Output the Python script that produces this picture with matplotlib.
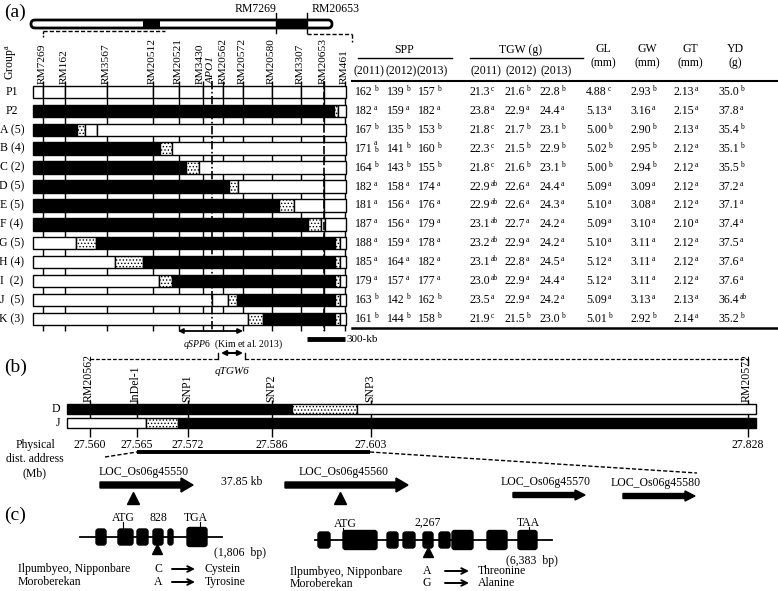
import numpy as np
import matplotlib.pyplot as plt
from matplotlib.patches import Rectangle, FancyBboxPatch, FancyArrow

plt.rcParams['font.family'] = ['Liberation Serif', 'DejaVu Serif']
plt.rcParams['mathtext.fontset'] = 'custom'
plt.rcParams['mathtext.rm'] = 'Liberation Serif'
plt.rcParams['mathtext.it'] = 'Liberation Serif:italic'
plt.rcParams['hatch.linewidth'] = 0.6

# ---- panel (a): graphical genotypes ----
a_markers = ["RM7269", "RM162", "RM3567", "RM20512", "RM20521", "RM3430",
             "RM20562", "RM20572", "RM20580", "RM3307", "RM20653", "RM461"]
a_marker_x = [43, 65, 107, 153, 179, 203, 223, 243, 272, 301, 324, 345]
apo1_x = 212

groups = ["P1", "P2", "A (5)", "B (4)", "C (2)", "D (5)", "E (5)", "F (4)",
          "G (5)", "H (4)", "I  (2)", "J  (5)", "K (3)"]

# segments: (start, end, kind)  w = P1 type, b = P2 type, d = recombination
p1_edges = [33] + a_marker_x[:-1] + [346]
geno_segments = [
    [(p1_edges[i], p1_edges[i + 1], 'w') for i in range(len(p1_edges) - 1)],
    [(33, 334, 'b'), (334, 338, 'd'), (338, 346, 'w')],
    [(33, 77, 'b'), (77, 85, 'd'), (85, 97, 'w'), (97, 346, 'w')],
    [(33, 160, 'b'), (160, 172, 'd'), (172, 346, 'w')],
    [(33, 186, 'b'), (186, 199, 'd'), (199, 346, 'w')],
    [(33, 229, 'b'), (229, 238, 'd'), (238, 324, 'w'), (324, 346, 'w')],
    [(33, 279, 'b'), (279, 294, 'd'), (294, 324, 'w'), (324, 346, 'w')],
    [(33, 308, 'b'), (308, 321, 'd'), (321, 325, 'w'), (325, 346, 'w')],
    [(33, 76, 'w'), (76, 96, 'd'), (96, 335, 'b'), (335, 340, 'd'), (340, 346, 'w')],
    [(33, 115, 'w'), (115, 143, 'd'), (143, 335, 'b'), (335, 340, 'd'), (340, 346, 'w')],
    [(33, 159, 'w'), (159, 172, 'd'), (172, 335, 'b'), (335, 340, 'd'), (340, 346, 'w')],
    [(33, 212, 'w'), (212, 228, 'w'), (228, 237, 'd'), (237, 335, 'b'), (335, 340, 'd'), (340, 346, 'w')],
    [(33, 248, 'w'), (248, 263, 'd'), (263, 335, 'b'), (335, 340, 'd'), (340, 346, 'w')],
]

# ---- panel (a): phenotype table ----
spp_2011 = ["162", "182", "167", "171", "164", "182", "181", "187", "188", "185", "179", "163", "161"]
spp_2011_g = ["b", "a", "b", "a|b", "b", "a", "a", "a", "a", "a", "a", "b", "b"]
spp_2012 = ["139", "159", "135", "141", "143", "158", "156", "156", "159", "164", "157", "142", "144"]
spp_2012_g = ["b", "a", "b", "b", "b", "a", "a", "a", "a", "a", "a", "b", "b"]
spp_2013 = ["157", "182", "153", "160", "155", "174", "176", "179", "178", "182", "177", "162", "158"]
spp_2013_g = ["b", "a", "b", "b", "b", "a", "a", "a", "a", "a", "a", "b", "b"]
tgw_2011 = ["21.3", "23.8", "21.8", "22.3", "21.8", "22.9", "22.9", "23.1", "23.2", "23.1", "23.0", "23.5", "21.9"]
tgw_2011_g = ["c", "a", "c", "c", "c", "ab", "ab", "ab", "ab", "ab", "ab", "a", "c"]
tgw_2012 = ["21.6", "22.9", "21.7", "21.5", "21.6", "22.6", "22.6", "22.7", "22.9", "22.8", "22.9", "22.9", "21.5"]
tgw_2012_g = ["b", "a", "b", "b", "b", "a", "a", "a", "a", "a", "a", "a", "b"]
tgw_2013 = ["22.8", "24.4", "23.1", "22.9", "23.1", "24.4", "24.3", "24.2", "24.2", "24.5", "24.4", "24.2", "23.0"]
tgw_2013_g = ["b", "a", "b", "b", "b", "a", "a", "a", "a", "a", "a", "a", "b"]
gl = ["4.88", "5.13", "5.00", "5.02", "5.00", "5.09", "5.10", "5.09", "5.10", "5.12", "5.12", "5.09", "5.01"]
gl_g = ["c", "a", "b", "b", "b", "a", "a", "a", "a", "a", "a", "a", "b"]
gw = ["2.93", "3.16", "2.90", "2.95", "2.94", "3.09", "3.08", "3.10", "3.11", "3.11", "3.11", "3.13", "2.92"]
gw_g = ["b", "a", "b", "b", "b", "a", "a", "a", "a", "a", "a", "a", "b"]
gt = ["2.13", "2.15", "2.13", "2.12", "2.12", "2.12", "2.12", "2.10", "2.12", "2.12", "2.12", "2.13", "2.14"]
gt_g = ["a"] * 13
yd = ["35.0", "37.8", "35.4", "35.1", "35.5", "37.2", "37.1", "37.4", "37.5", "37.6", "37.6", "36.4", "35.2"]
yd_g = ["b", "a", "b", "b", "b", "a", "a", "a", "a", "a", "a", "ab", "b"]

# ---- panel (b) ----
b_markers = ["RM20562", "InDel-1", "SNP1", "SNP2", "SNP3", "RM20572"]
b_marker_x = [90, 137, 188, 272, 371, 748]
b_positions = ["27.560", "27.565", "27.572", "27.586", "27.603", "27.828"]
d_segments = [(67, 292, 'b'), (292, 357, 'd'), (357, 756, 'w')]
j_segments = [(67, 146, 'w'), (146, 178, 'd'), (178, 756, 'b')]

genes = ["LOC_Os06g45550", "LOC_Os06g45560", "LOC_Os06g45570", "LOC_Os06g45580"]
gene_start = [100, 285, 513, 623]
gene_end = [193, 408, 585, 695]

# ---- panel (c) ----
exons1 = [(96, 106), (118, 133), (137, 148), (153, 163), (168, 173), (187, 207)]
exons2 = [(318, 330), (343, 377), (387, 398), (403, 415), (423, 433),
          (439, 450), (452, 473), (487, 507), (518, 537)]

fig = plt.figure(figsize=(7.78, 5.91), dpi=100)
ax = fig.add_axes([0, 0, 1, 1])
ax.set_xlim(0, 778)
ax.set_ylim(591, 0)
ax.axis('off')

FS = 8.5


def seg_patch(x0, x1, y, h, kind):
    if kind == 'b':
        return Rectangle((x0, y), x1 - x0, h, fc='black', ec='black', lw=1, zorder=2)
    if kind == 'd':
        return Rectangle((x0, y), x1 - x0, h, fc='white', ec='black', lw=1,
                         hatch='.....', zorder=2)
    return Rectangle((x0, y), x1 - x0, h, fc='white', ec='black', lw=1, zorder=2)


# (a) chromosome overview
ax.text(4, 12, "(a)", fontsize=14, va='center')
ax.add_patch(FancyBboxPatch((31, 20), 301, 8, boxstyle="round,pad=0,rounding_size=4",
                            fc='white', ec='black', lw=2, zorder=2))
ax.add_patch(Rectangle((143, 20.5), 17, 7, fc='black', ec='none', zorder=3))
ax.add_patch(Rectangle((276, 20), 31, 8, fc='black', ec='none', zorder=3))
for xx in (276, 307):
    ax.plot([xx, xx], [13, 33], color='k', lw=1, zorder=4)
ax.text(276, 9, "RM7269", fontsize=FS, ha='right', va='center')
ax.text(312, 9, "RM20653", fontsize=FS, ha='left', va='center')
ax.plot([43, 165], [31, 31], color='k', lw=1, ls=(0, (3, 1.5)))
ax.plot([43, 43], [31, 37], color='k', lw=1, ls=(0, (2, 1)))
ax.plot([307, 352], [34, 34], color='k', lw=1, ls=(0, (3, 1.5)))
ax.plot([352, 352], [34, 42], color='k', lw=1, ls=(0, (3, 1.5)))

# (a) marker labels and lines
row_c0, row_step, row_h = 92, 18.9, 12.5
ys = [row_c0 + i * row_step for i in range(len(groups))]
label_dx = [-1, -1, -1, -1, -1, -3, 0, -1, -1, -1, -1, -1]
for name, xx, dx in zip(a_markers, a_marker_x, label_dx):
    ax.text(xx + dx, 84, name, rotation=90, fontsize=8.2, ha='center', va='bottom')
ax.text(apo1_x - 1, 84, "APO1", rotation=90, fontsize=8.2, ha='center', va='bottom',
        style='italic')
ax.vlines(a_marker_x, 81, ys[-1] + 12, color='k', lw=1, zorder=1)
ax.vlines([apo1_x, 324], 81, ys[-1] + 12, color='k', lw=1.2, zorder=3,
          linestyles=[(0, (5, 1.5, 1, 1.5)), (0, (5, 1.5))])
ax.text(11, 62, "Group$^{\\mathrm{a}}$", rotation=90, fontsize=FS, ha='center', va='center')

for g, segs, yc in zip(groups, geno_segments, ys):
    ax.text(12, yc, g, fontsize=FS, ha='center', va='center')
    for x0, x1, k in segs:
        ax.add_patch(seg_patch(x0, x1, yc - row_h / 2, row_h, k))

# QTL arrows and scale bar
ax.annotate('', xy=(178, 331), xytext=(243, 331),
            arrowprops=dict(arrowstyle='<|-|>', color='k', lw=1.3,
                            mutation_scale=7, shrinkA=0, shrinkB=0))
ax.plot([307, 345], [339, 339], color='k', lw=3.5, solid_capstyle='butt')
ax.text(347, 339, "300-kb", fontsize=8, va='center')
ax.text(233, 344, "$\\it{qSPP6}$  (Kim et al. 2013)", fontsize=7, ha='center', va='center')

# (a) table
col_x = [369, 401, 432, 486, 521, 556, 603, 647, 690, 735]
col_vals = [spp_2011, spp_2012, spp_2013, tgw_2011, tgw_2012, tgw_2013, gl, gw, gt, yd]
col_grp = [spp_2011_g, spp_2012_g, spp_2013_g, tgw_2011_g, tgw_2012_g, tgw_2013_g,
           gl_g, gw_g, gt_g, yd_g]
ax.text(404, 50, "SPP", fontsize=FS, ha='center', va='center')
ax.plot([358, 452], [58, 58], color='k', lw=1)
ax.text(521, 50, "TGW (g)", fontsize=FS, ha='center', va='center')
ax.plot([470, 583], [58, 58], color='k', lw=1)
for xx, yr in zip(col_x[:6], ["(2011)", "(2012)", "(2013)"] * 2):
    ax.text(xx, 71, yr, fontsize=FS, ha='center', va='center')
for xx, hd in zip(col_x[6:], ["GL\n(mm)", "GW\n(mm)", "GT\n(mm)", "YD\n(g)"]):
    ax.text(xx, 56, hd, fontsize=FS, ha='center', va='center', linespacing=1.3)
ax.plot([352, 778], [81, 81], color='k', lw=1.5)
ax.plot([352, 778], [ys[-1] + 9, ys[-1] + 9], color='k', lw=1.8)

for xx, vals, grps in zip(col_x, col_vals, col_grp):
    for v, gg, yc in zip(vals, grps, ys):
        ax.text(xx + 4, yc, v, fontsize=FS, ha='right', va='center')
        if '|' in gg:
            up, lo = gg.split('|')
            ax.text(xx + 5, yc - 6, up, fontsize=5.5, ha='left', va='center')
            ax.text(xx + 5, yc + 1, lo, fontsize=5.5, ha='left', va='center')
        else:
            ax.text(xx + 5, yc - 3, gg, fontsize=5.5, ha='left', va='center')

# (b)
ax.text(4, 367, "(b)", fontsize=14, va='center')
dash = (0, (3, 1.5))
ax.plot([90, 218], [359, 359], color='k', lw=0.9, ls=dash)
ax.plot([218, 218], [353, 359], color='k', lw=1)
ax.plot([245, 245], [353, 359], color='k', lw=1)
ax.plot([245, 748], [359, 359], color='k', lw=0.9, ls=dash)
ax.plot([748, 748], [359, 365], color='k', lw=1)
ax.annotate('', xy=(221, 353), xytext=(243, 353),
            arrowprops=dict(arrowstyle='<|-|>', color='k', lw=1.5,
                            mutation_scale=7, shrinkA=0, shrinkB=0))
ax.text(232, 372, "qTGW6", fontsize=8, style='italic', ha='center', va='center')

for name, xx in zip(b_markers, b_marker_x):
    ax.text(xx - 1, 402, name, rotation=90, fontsize=FS, ha='center', va='bottom')
ax.vlines(b_marker_x, 400, 437, color='k', lw=1, zorder=1)
for segs, y0, lab in ((d_segments, 404, "D"), (j_segments, 418, "J")):
    ax.text(60, y0 + 5, lab, fontsize=FS, ha='right', va='center')
    for x0, x1, k in segs:
        ax.add_patch(seg_patch(x0, x1, y0, 10, k))
for xx, p in zip(b_marker_x, b_positions):
    ax.text(xx, 445, p, fontsize=FS, ha='center', va='center')
ax.text(35, 445, "Physical", fontsize=FS, ha='center', va='center')
ax.text(35, 459, "dist. address", fontsize=FS, ha='center', va='center')
ax.text(35, 473, "(Mb)", fontsize=FS, ha='center', va='center')

ax.plot([137, 370], [452, 452], color='k', lw=2.8, solid_capstyle='butt')
ax.plot([105, 137], [457, 452], color='k', lw=1, ls=dash)
ax.plot([370, 697], [452, 473], color='k', lw=1, ls=dash)

gene_y = [485, 485, 495, 496]
gene_lab_y = [472, 472, 482, 483]
for i, (g, x0, x1) in enumerate(zip(genes, gene_start, gene_end)):
    big = i < 2
    ax.add_patch(FancyArrow(x0, gene_y[i], x1 - x0, 0, width=6 if big else 5,
                            head_width=14 if big else 10, head_length=12 if big else 10,
                            length_includes_head=True, fc='k', ec='k'))
    ax.text((x0 + x1) / 2 - 3, gene_lab_y[i], g, fontsize=FS, ha='center', va='center')
ax.text(242, 482, "37.85 kb", fontsize=FS, ha='center', va='center')
ax.plot([133, 340], [498, 498], ls='none', marker='^', ms=8, color='k')

# (c)
ax.text(4, 515, "(c)", fontsize=14, va='center')


def draw_gene(x0, x1, yc, exons, big=()):
    ax.plot([x0, x1], [yc, yc], color='k', lw=1.3, zorder=1)
    for i, (e0, e1) in enumerate(exons):
        h = 19 if i in big else 16
        ax.add_patch(FancyBboxPatch((e0, yc - h / 2), e1 - e0, h,
                                    boxstyle="round,pad=0,rounding_size=2.5",
                                    fc='k', ec='k', zorder=2))


draw_gene(80, 222, 537, exons1, big=(5,))
ax.text(123, 518, "ATG", fontsize=FS, ha='center', va='center')
ax.plot([123, 123], [522, 529], color='k', lw=0.8)
ax.text(158, 518, "828", fontsize=FS, ha='center', va='center')
ax.text(196, 518, "TGA", fontsize=FS, ha='center', va='center')
ax.plot([200, 200], [522, 528], color='k', lw=0.8)
ax.plot([157], [549], marker='^', ms=7, color='k')
ax.text(240, 553, "(1,806  bp)", fontsize=FS, ha='center', va='center')
ax.text(18, 569, "Ilpumbyeo, Nipponbare", fontsize=FS, va='center')
ax.text(18, 582, "Moroberekan", fontsize=FS, va='center')

draw_gene(315, 552, 540, exons2, big=(1, 6, 7, 8))
ax.text(345, 524, "ATG", fontsize=FS, ha='center', va='center')
ax.plot([343, 343], [528, 532], color='k', lw=0.8)
ax.text(428, 523, "2,267", fontsize=FS, ha='center', va='center')
ax.text(528, 523, "TAA", fontsize=FS, ha='center', va='center')
ax.plot([529, 529], [527, 531], color='k', lw=0.8)
ax.plot([428], [552], marker='^', ms=7, color='k')
ax.text(532, 561, "(6,383  bp)", fontsize=FS, ha='center', va='center')
ax.text(290, 572, "Ilpumbyeo, Nipponbare", fontsize=FS, va='center')
ax.text(290, 584, "Moroberekan", fontsize=FS, va='center')

snp_rows = [(158, 569, "C", 172, 195, 205, "Cystein"),
            (158, 582, "A", 172, 195, 205, "Tyrosine"),
            (427, 571, "A", 445, 469, 478, "Threonine"),
            (427, 583, "G", 445, 469, 478, "Alanine")]
for bx, by, base, a0, a1, tx, aa in snp_rows:
    ax.text(bx, by, base, fontsize=FS, ha='center', va='center')
    ax.annotate('', xy=(a1, by), xytext=(a0, by),
                arrowprops=dict(arrowstyle='->', color='k', lw=1.4,
                                mutation_scale=10, shrinkA=0, shrinkB=0))
    ax.text(tx, by, aa, fontsize=FS, va='center')

fig.savefig("out.png", dpi=100)
